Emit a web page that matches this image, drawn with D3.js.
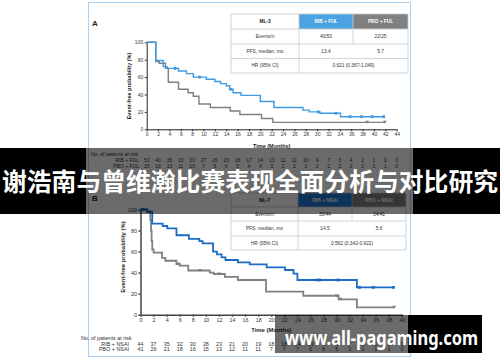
<!DOCTYPE html>
<meta charset="utf-8">
<script src="https://d3js.org/d3.v7.min.js"></script>
<style>
  body { margin: 0; background: #fff; }
  text { font-family: "Liberation Sans", Arial, sans-serif; }
</style>
<body>
<div id="canvas"></div>
<script>

// ---------------- painel A : ML-3 ----------------
var ticksA = [0,2,4,6,8,10,12,14,16,18,20,22,24,26,28,30,32,34,36,38,40,42,44];
// [mes, probabilidade] -> degrau a partir do mes
var ribFul = [[0,100],[1.6,79],[2.9,72],[3.6,70],[5.6,67],[7.0,64],[8.2,60],[10.5,57.5],[12,55],[13,52.5],
              [14,50],[14.6,46],[15.2,42],[16.6,39],[20,32],[22.4,25],[27.5,22],[28.6,20],[30.5,18.4],
              [34.1,14.5],[41.8,14.5]];
var ribFulCens = [5.0,9.3,14.8,30.2,33.3,35.8,37.8,39.7,41.7];
var pboFul = [[0,100],[1.6,78],[2.2,76],[3.3,70],[3.8,54],[5.6,46],[7.3,42],[8.2,38],[9.2,29],[11.2,25],
              [14.7,21],[16.4,17],[20.2,12.5],[22.2,8],[41.9,8]];
var pboFulCens = [38.8,41.9];
var riskRibFul = [53,40,36,33,30,27,26,23,18,17,14,13,11,11,10,9,7,6,4,2,1,0,0];
var riskPboFul = [25,19,13,11,10,7,6,6,5,4,4,3,2,2,2,2,2,2,2,2,1,1,0];
var headA = ["ML-3","RIB + FUL","PBO + FUL"];
var linhasA = [["Events/n","40/53","22/25"],["PFS, median, mo","13.4","5.7"],["HR (95% CI)","0.621 (0.367-1.049)"]];

// ---------------- painel B : NSAI ----------------
var ticksB = [0,2,4,6,8,10,12,14,16,18,20,22,24,26,28,30,32,34,36,38,40];
var ribNsai = [[0,100],[1.0,98],[1.8,86.5],[3.4,84.3],[4.1,82],[5.5,75.5],[7.4,72],[9.0,70],[9.5,67.8],
               [11.1,60],[11.7,57.4],[12.4,54.5],[13,52],[14.9,49.8],[16.7,47.9],[19.3,45],[22.1,42.5],
               [23.4,39],[24.0,33],[33.1,26],[38.7,26]];
var ribNsaiCens = [0.3,1.2,27.0,27.4,30.2,33.5,35.6,38.7];
var pboNsai = [[0,100],[1.0,98],[1.5,90],[1.6,80],[1.7,70],[1.8,62],[2.0,59],[3.3,54],[3.8,51.3],[5.5,48.2],
               [6.0,46.6],[7.3,42],[10.6,40],[11.2,38.7],[12.9,36],[14.9,33],[19.2,22],[24.9,18],[30.3,14.6],
               [33.1,7],[38.8,7]];
var pboNsaiCens = [5.8,9.1,12.0,30.0,30.6,38.8];
var riskRibNsai = [44,37,35,32,30,28,23,21,20,19,18,18,14,13,9,9,7,3,1,1,0];
var riskPboNsai = [41,26,21,18,16,15,13,12,11,11,7,7,7,6,6,5,3,1,1,1,0];
var headB = ["ML-7","RIB + NSAI","PBO + NSAI"];
var linhasB = [["Events/n","30/44","34/41"],["PFS, median, mo","14.5","5.6"],["HR (95% CI)","0.562 (0.342-0.922)"]];

var titulo = "谢浩南与曾维瀚比赛表现全面分析与对比研究";
var marcaAgua = "www.all-pagaming.com";

var width = 500;
var height = 362;

var svg = d3.select('#canvas')
    .append("svg")
    .attr('width', width)
    .attr('height', height)
    .style("display", "block")
    .style("background", "#fff");

// moldura azul clara da figura
svg.append('rect')
    .attr('x', 88.5).attr('y', 2.5)
    .attr('width', 322).attr('height', 354)
    .attr('fill', 'none')
    .attr('stroke', '#a9d0f0')
    .attr('stroke-width', 1);

// -- tabela de resumo
function desenhaTabela(t) {
    var g = svg.append('g');
    var cores = ['#fff', t.corRib, '#808080'];
    for (var c = 0; c < 3; c++) {
        g.append('rect')
            .attr('x', t.cx[c]).attr('y', t.ry[0])
            .attr('width', t.cx[c+1] - t.cx[c]).attr('height', t.ry[1] - t.ry[0])
            .attr('fill', cores[c]);
        g.append('text')
            .attr('x', (t.cx[c] + t.cx[c+1]) / 2)
            .attr('y', (t.ry[0] + t.ry[1]) / 2 + 1.7)
            .attr('text-anchor', 'middle')
            .attr('font-size', 4.8)
            .attr('font-weight', 'bold')
            .attr('fill', c == 0 ? '#222' : '#fff')
            .text(t.head[c]);
    }
    for (var r = 0; r < t.linhas.length; r++) {
        var row = t.linhas[r];
        var ymid = (t.ry[r+1] + t.ry[r+2]) / 2 + 1.7;
        g.append('text').attr('x', (t.cx[0] + t.cx[1]) / 2).attr('y', ymid)
            .attr('text-anchor', 'middle').attr('font-size', 4.8).attr('fill', '#333').text(row[0]);
        if (row.length == 3) {
            g.append('text').attr('x', (t.cx[1] + t.cx[2]) / 2).attr('y', ymid)
                .attr('text-anchor', 'middle').attr('font-size', 4.8).attr('fill', '#333').text(row[1]);
            g.append('text').attr('x', (t.cx[2] + t.cx[3]) / 2).attr('y', ymid)
                .attr('text-anchor', 'middle').attr('font-size', 4.8).attr('fill', '#333').text(row[2]);
        } else {
            g.append('text').attr('x', (t.cx[1] + t.cx[3]) / 2).attr('y', ymid)
                .attr('text-anchor', 'middle').attr('font-size', 4.8).attr('fill', '#333').text(row[1]);
        }
    }
    // grade
    var last = t.ry.length - 1;
    g.append('rect')
        .attr('x', t.cx[0]).attr('y', t.ry[0])
        .attr('width', t.cx[3] - t.cx[0]).attr('height', t.ry[last] - t.ry[0])
        .attr('fill', 'none').attr('stroke', '#c9c9c9').attr('stroke-width', 0.8);
    for (var i = 1; i < last; i++) {
        g.append('line').attr('x1', t.cx[0]).attr('x2', t.cx[3]).attr('y1', t.ry[i]).attr('y2', t.ry[i])
            .attr('stroke', '#c9c9c9').attr('stroke-width', 0.8);
    }
    g.append('line').attr('x1', t.cx[1]).attr('x2', t.cx[1]).attr('y1', t.ry[0]).attr('y2', t.ry[last])
        .attr('stroke', '#c9c9c9').attr('stroke-width', 0.8);
    g.append('line').attr('x1', t.cx[2]).attr('x2', t.cx[2]).attr('y1', t.ry[0]).attr('y2', t.ry[2])
        .attr('stroke', '#c9c9c9').attr('stroke-width', 0.8);
}

// -- curva de Kaplan-Meier com eixos e tabela de risco
function desenhaKM(p) {
    var x = d3.scaleLinear().domain([0, p.ticks[p.ticks.length - 1]]).range([p.x0, p.x1]);
    var y = d3.scaleLinear().domain([0, 100]).range([p.y0, p.y1]);
    var g = svg.append('g');

    var yAxis = d3.axisLeft(y).tickValues([0,20,40,60,80,100]).tickSize(2).tickSizeOuter(0).tickPadding(1.5);
    var xAxis = d3.axisBottom(x).tickValues(p.ticks).tickSize(2).tickSizeOuter(0).tickPadding(1.5);

    g.append('g')
        .attr('transform', 'translate(' + p.x0 + ',0)')
        .call(yAxis)
        .attr('font-size', p.fs)
        .attr('font-family', null);
    g.append('g')
        .attr('transform', 'translate(0,' + p.y0 + ')')
        .call(xAxis)
        .attr('font-size', p.fs)
        .attr('font-family', null);
    g.selectAll('.domain, .tick line').attr('stroke', p.corEixo).attr('stroke-width', p.eixoW);
    g.selectAll('.tick text').attr('fill', '#333');

    var line = d3.line()
        .x(function(d) { return x(d[0]); })
        .y(function(d) { return y(d[1]); })
        .curve(d3.curveStepAfter);

    // valor da curva num mes (para os censurados)
    function valor(serie, t) {
        var v = serie[0][1];
        for (var i = 0; i < serie.length; i++) { if (serie[i][0] <= t) v = serie[i][1]; }
        return v;
    }

    var series = [
        {d: p.pbo, cens: p.pboCens, cor: '#808080', tri: true},
        {d: p.rib, cens: p.ribCens, cor: p.corRib, tri: false}
    ];
    series.forEach(function(s) {
        g.append('path')
            .attr('d', line(s.d))
            .attr('fill', 'none')
            .attr('stroke', s.cor)
            .attr('stroke-width', p.linhaW);
        s.cens.forEach(function(t) {
            var cx = x(t), cy = y(valor(s.d, t));
            if (s.tri) {
                g.append('path')
                    .attr('d', 'M' + (cx - 2) + ',' + (cy - 1.5) + 'L' + (cx + 2) + ',' + (cy - 1.5) + 'L' + cx + ',' + (cy + 1.5) + 'Z')
                    .attr('fill', s.cor);
            } else {
                g.append('rect')
                    .attr('x', cx - 1.4).attr('y', cy - 1.4)
                    .attr('width', 2.8).attr('height', 2.8)
                    .attr('fill', s.cor);
            }
        });
    });

    // titulos dos eixos
    g.append('text')
        .attr('transform', 'rotate(-90)')
        .attr('x', -p.yLabelY)
        .attr('y', p.yLabelX)
        .attr('text-anchor', 'middle')
        .attr('font-size', p.fs + 0.5)
        .attr('font-weight', 'bold')
        .attr('fill', '#222')
        .text('Event-free probability (%)');
    g.append('text')
        .attr('x', (p.x0 + p.x1) / 2)
        .attr('y', p.xLabelY)
        .attr('text-anchor', 'middle')
        .attr('font-size', p.fs + 0.5)
        .attr('font-weight', 'bold')
        .attr('fill', '#222')
        .text('Time (Months)');

    // pacientes em risco
    g.append('text')
        .attr('x', p.riskX).attr('y', p.riskY)
        .attr('font-size', p.fs).attr('fill', '#333')
        .text('No. of patients at risk');
    var grupos = [[p.nomeRib, p.riskRib], [p.nomePbo, p.riskPbo]];
    grupos.forEach(function(gr, k) {
        var yy = p.riskY + p.riskDy * (k + 1);
        g.append('text')
            .attr('x', p.labelEnd).attr('y', yy)
            .attr('text-anchor', 'end')
            .attr('font-size', p.fs).attr('fill', '#333')
            .text(gr[0]);
        g.selectAll(null)
            .data(gr[1])
            .enter()
            .append('text')
            .attr('x', function(d, i) { return x(p.ticks[i]); })
            .attr('y', yy)
            .attr('text-anchor', 'middle')
            .attr('font-size', p.fs)
            .attr('fill', '#333')
            .text(function(d) { return d; });
    });
}

// ---- painel A
svg.append('text').attr('x', 92).attr('y', 26).attr('font-size', 8).attr('font-weight', 'bold').attr('fill', '#222').text('A');
desenhaTabela({cx: [231, 299, 353, 408], ry: [14, 29, 44, 58.5, 73], head: headA, linhas: linhasA, corRib: '#4ca3e4'});
desenhaKM({
    ticks: ticksA, x0: 146.7, x1: 396.7, y0: 129.3, y1: 42.3,
    rib: ribFul, ribCens: ribFulCens, pbo: pboFul, pboCens: pboFulCens,
    corRib: '#3d9be6', corEixo: '#222', eixoW: 1, linhaW: 1.4, fs: 5,
    yLabelX: 130.5, yLabelY: 86, xLabelY: 148,
    riskX: 91, riskY: 156, riskDy: 6.2, labelEnd: 139,
    nomeRib: 'RIB + FUL', nomePbo: 'PBO + FUL', riskRib: riskRibFul, riskPbo: riskPboFul
});

// ---- painel B
svg.append('text').attr('x', 92).attr('y', 201).attr('font-size', 8).attr('font-weight', 'bold').attr('fill', '#222').text('B');
desenhaTabela({cx: [231, 298, 352, 406], ry: [193, 207, 221, 236, 250], head: headB, linhas: linhasB, corRib: '#1f78d6'});
desenhaKM({
    ticks: ticksB, x0: 140.5, x1: 402, y0: 314.7, y1: 209.5,
    rib: ribNsai, ribCens: ribNsaiCens, pbo: pboNsai, pboCens: pboNsaiCens,
    corRib: '#1c6cc6', corEixo: '#444', eixoW: 1.5, linhaW: 1.8, fs: 5.4,
    yLabelX: 124.5, yLabelY: 257, xLabelY: 332,
    riskX: 81, riskY: 340, riskDy: 5.6, labelEnd: 129,
    nomeRib: 'RIB + NSAI', nomePbo: 'PBO + NSAI', riskRib: riskRibNsai, riskPbo: riskPboNsai
});

// ---- faixa escura com o titulo
var faixa = svg.append('g');
faixa.append('rect').attr('x', 0).attr('y', 148).attr('width', 86).attr('height', 66).attr('fill', '#000');
faixa.append('rect').attr('x', 86).attr('y', 148).attr('width', 327).attr('height', 66).attr('fill', 'rgba(0,0,0,0.58)');
faixa.append('rect').attr('x', 413).attr('y', 148).attr('width', 87).attr('height', 66).attr('fill', '#000');
faixa.append('text')
    .attr('x', 2).attr('y', 190.5)
    .attr('textLength', 496)
    .attr('lengthAdjust', 'spacingAndGlyphs')
    .style('font-family', '"Noto Sans CJK SC", sans-serif')
    .style('font-size', '24.6px')
    .style('font-weight', 'bold')
    .attr('fill', '#fff')
    .text(titulo);

// ---- marca d'agua
var marca = svg.append('g');
marca.append('rect').attr('x', 275).attr('y', 315).attr('width', 133).attr('height', 38).attr('fill', 'rgba(0,0,0,0.58)');
marca.append('rect').attr('x', 408).attr('y', 315).attr('width', 74).attr('height', 38).attr('fill', '#000');
marca.append('text')
    .attr('x', 285).attr('y', 345)
    .attr('textLength', 193)
    .attr('lengthAdjust', 'spacingAndGlyphs')
    .style('font-family', '"Noto Sans", "Open Sans", sans-serif')
    .style('font-size', '20px')
    .style('font-weight', 'bold')
    .attr('fill', '#fff')
    .text(marcaAgua);

</script>
</body>
